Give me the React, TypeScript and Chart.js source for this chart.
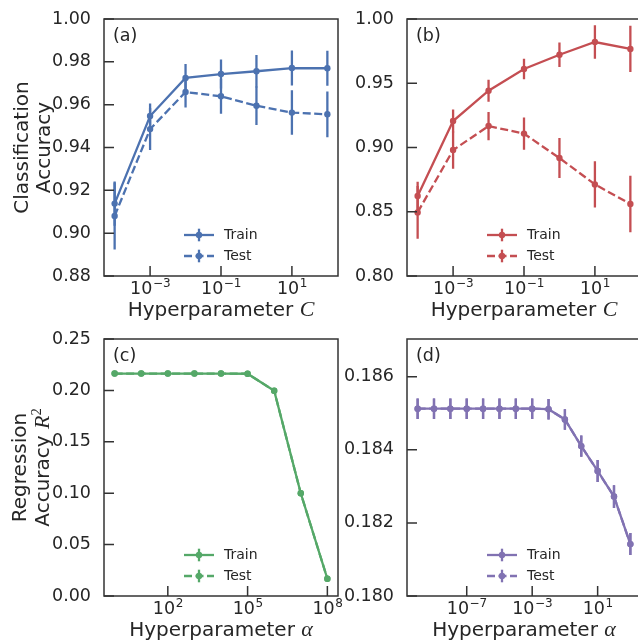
import React, { useEffect, useRef } from 'react';
import { Chart, registerables } from 'chart.js';
Chart.register(...registerables);

// ---------- data ----------
const C_VALUES = [1e-4, 1e-3, 1e-2, 1e-1, 1, 10, 100];
const A_TRAIN = [0.9138, 0.9547, 0.9725, 0.9743, 0.9756, 0.9771, 0.977];
const A_TRAIN_ERR = [0.0103, 0.0058, 0.0065, 0.0068, 0.0076, 0.0082, 0.0082];
const A_TEST = [0.908, 0.9486, 0.9659, 0.9639, 0.9595, 0.9563, 0.9555];
const A_TEST_ERR = [0.0156, 0.0098, 0.0072, 0.0081, 0.009, 0.0104, 0.0107];

const B_TRAIN = [0.8623, 0.9206, 0.9442, 0.9611, 0.9722, 0.9821, 0.9767];
const B_TRAIN_ERR = [0.011, 0.009, 0.0085, 0.008, 0.0095, 0.013, 0.018];
const B_TEST = [0.8495, 0.898, 0.9167, 0.9108, 0.8918, 0.8713, 0.856];
const B_TEST_ERR = [0.0205, 0.0145, 0.011, 0.0125, 0.0155, 0.018, 0.022];

const ALPHA_C = [1, 1e1, 1e2, 1e3, 1e4, 1e5, 1e6, 1e7, 1e8];
const C_TRAIN = [0.2164, 0.2164, 0.2164, 0.2164, 0.2164, 0.2162, 0.1997, 0.0999, 0.0168];
const C_TRAIN_ERR = [0.0005, 0.0005, 0.0005, 0.0005, 0.0005, 0.0005, 0.0006, 0.0006, 0.0006];
const C_TEST = [0.2164, 0.2164, 0.2164, 0.2164, 0.2164, 0.2162, 0.1997, 0.0999, 0.0168];
const C_TEST_ERR = [0.0005, 0.0005, 0.0005, 0.0005, 0.0005, 0.0005, 0.0006, 0.0006, 0.0006];

const ALPHA_D = [1e-10, 1e-9, 1e-8, 1e-7, 1e-6, 1e-5, 1e-4, 1e-3, 1e-2, 1e-1, 1, 1e1, 1e2, 1e3];
const D_TRAIN = [0.185125, 0.185125, 0.185125, 0.185125, 0.185125, 0.185125, 0.185125, 0.185125, 0.18511, 0.18483, 0.1841, 0.18342, 0.18272, 0.18142];
const D_TRAIN_ERR = [0.00028, 0.00028, 0.00028, 0.00028, 0.00028, 0.00028, 0.00028, 0.00028, 0.00028, 0.00028, 0.00029, 0.0003, 0.00031, 0.0003];
const D_TEST = [0.185125, 0.185125, 0.185125, 0.185125, 0.185125, 0.185125, 0.185125, 0.185125, 0.18511, 0.18483, 0.1841, 0.18342, 0.18272, 0.18142];
const D_TEST_ERR = [0.00028, 0.00028, 0.00028, 0.00028, 0.00028, 0.00028, 0.00028, 0.00028, 0.00028, 0.00028, 0.00029, 0.0003, 0.00031, 0.0003];

const X_TICKS_AB = [1e-3, 1e-1, 1e1];
const X_TICKS_C = [1e2, 1e5, 1e8];
const X_TICKS_D = [1e-7, 1e-3, 1e1];
const Y_TICKS_A = [0.88, 0.9, 0.92, 0.94, 0.96, 0.98, 1.0];
const Y_TICKS_B = [0.8, 0.85, 0.9, 0.95, 1.0];
const Y_TICKS_C = [0, 0.05, 0.1, 0.15, 0.2, 0.25];
const Y_TICKS_D = [0.18, 0.182, 0.184, 0.186];

const LEGEND_LABELS = ['Train', 'Test'];

// ---------- style ----------
const FONT = '"DejaVu Sans"';
const MATH_FONT = '"Liberation Serif"';
const TEXT = '#262626';
const SPINE = '#333333';
const LW = 2.3;
const EB_LW = 2.3;
const DASH = [8, 3.5];
const MARKER_R = 3.2;

type Seg = { t: string; k?: 'i' | 'sup' };
type Series = { label: string; xs: number[]; ys: number[]; errs: number[]; dashed: boolean };
type PanelCfg = {
  left: number; top: number; width: number; height: number;
  plotLeft: number; plotTop: number; plotRight: number; plotBottom: number;
  color: string; series: Series[];
  xMin: number; xMax: number; xTicks: number[];
  yMin: number; yMax: number; yTicks: number[]; yDecimals: number;
  tag: string; xTitle: string; xMath: string;
  yTitle?: Seg[][]; yTitleX?: number[];
};

function mk(labelIdx: number, xs: number[], ys: number[], errs: number[]): Series {
  return { label: LEGEND_LABELS[labelIdx], xs, ys, errs, dashed: labelIdx === 1 };
}

const PANELS: PanelCfg[] = [
  {
    left: 0, top: 0, width: 360, height: 322,
    plotLeft: 104, plotTop: 19, plotRight: 338, plotBottom: 276,
    color: '#4C72B0',
    series: [mk(0, C_VALUES, A_TRAIN, A_TRAIN_ERR), mk(1, C_VALUES, A_TEST, A_TEST_ERR)],
    xMin: Math.pow(10, -4.3), xMax: Math.pow(10, 2.3), xTicks: X_TICKS_AB,
    yMin: 0.88, yMax: 1.0, yTicks: Y_TICKS_A, yDecimals: 2,
    tag: '(a)', xTitle: 'Hyperparameter ', xMath: 'C',
    yTitle: [[{ t: 'Classification' }], [{ t: 'Accuracy' }]], yTitleX: [27.5, 49.5],
  },
  {
    left: 320, top: 0, width: 340, height: 322,
    plotLeft: 407, plotTop: 19, plotRight: 641, plotBottom: 276,
    color: '#C44E52',
    series: [mk(0, C_VALUES, B_TRAIN, B_TRAIN_ERR), mk(1, C_VALUES, B_TEST, B_TEST_ERR)],
    xMin: Math.pow(10, -4.3), xMax: Math.pow(10, 2.3), xTicks: X_TICKS_AB,
    yMin: 0.8, yMax: 1.0, yTicks: Y_TICKS_B, yDecimals: 2,
    tag: '(b)', xTitle: 'Hyperparameter ', xMath: 'C',
  },
  {
    left: 0, top: 320, width: 360, height: 322,
    plotLeft: 104, plotTop: 339, plotRight: 338, plotBottom: 596,
    color: '#55A868',
    series: [mk(0, ALPHA_C, C_TRAIN, C_TRAIN_ERR), mk(1, ALPHA_C, C_TEST, C_TEST_ERR)],
    xMin: Math.pow(10, -0.4), xMax: Math.pow(10, 8.4), xTicks: X_TICKS_C,
    yMin: 0, yMax: 0.25, yTicks: Y_TICKS_C, yDecimals: 2,
    tag: '(c)', xTitle: 'Hyperparameter ', xMath: 'α',
    yTitle: [[{ t: 'Regression' }], [{ t: 'Accuracy ' }, { t: 'R', k: 'i' }, { t: '2', k: 'sup' }]], yTitleX: [25.5, 49],
  },
  {
    left: 320, top: 320, width: 340, height: 322,
    plotLeft: 407, plotTop: 339, plotRight: 641, plotBottom: 596,
    color: '#8172B2',
    series: [mk(0, ALPHA_D, D_TRAIN, D_TRAIN_ERR), mk(1, ALPHA_D, D_TEST, D_TEST_ERR)],
    xMin: Math.pow(10, -10.65), xMax: Math.pow(10, 3.65), xTicks: X_TICKS_D,
    yMin: 0.18, yMax: 0.18703, yTicks: Y_TICKS_D, yDecimals: 3,
    tag: '(d)', xTitle: 'Hyperparameter ', xMath: 'α',
  },
];

function segFont(k?: string) {
  if (k === 'i') return `italic 22px ${MATH_FONT}`;
  if (k === 'sup') return `14.5px ${MATH_FONT}`;
  return `20px ${FONT}`;
}

function Panel({ cfg }: { cfg: PanelCfg }) {
  const ref = useRef<HTMLCanvasElement>(null);
  useEffect(() => {
    const canvas = ref.current!;
    const plotL = cfg.plotLeft - cfg.left;
    const plotT = cfg.plotTop - cfg.top;
    const plotR = cfg.plotRight - cfg.left;
    const plotB = cfg.plotBottom - cfg.top;
    const xAxisH = cfg.height - plotB;
    const padR = cfg.width - plotR;

    const datasets = cfg.series.map((s) => ({
      label: s.label,
      data: s.xs.map((x, i) => ({ x, y: s.ys[i] })),
      borderColor: cfg.color,
      backgroundColor: cfg.color,
      borderWidth: LW,
      borderDash: s.dashed ? DASH : [],
      pointRadius: MARKER_R,
      pointHoverRadius: MARKER_R,
      pointBorderWidth: 0,
      pointBackgroundColor: cfg.color,
      showLine: true,
      tension: 0,
      fill: false,
    }));

    const plugin = {
      id: 'decor',
      beforeDatasetDraw(chart: any, args: any) {
        const s = cfg.series[args.index];
        const xs = chart.scales.x;
        const ys = chart.scales.y;
        const ctx = chart.ctx;
        const a = chart.chartArea;
        ctx.save();
        ctx.beginPath();
        ctx.rect(a.left, a.top, a.right - a.left, a.bottom - a.top);
        ctx.clip();
        ctx.strokeStyle = cfg.color;
        ctx.lineWidth = EB_LW;
        ctx.setLineDash([]);
        ctx.beginPath();
        s.xs.forEach((x, i) => {
          const px = xs.getPixelForValue(x);
          ctx.moveTo(px, ys.getPixelForValue(s.ys[i] - s.errs[i]));
          ctx.lineTo(px, ys.getPixelForValue(s.ys[i] + s.errs[i]));
        });
        ctx.stroke();
        ctx.restore();
      },
      afterDraw(chart: any) {
        const ctx = chart.ctx as CanvasRenderingContext2D;
        const a = chart.chartArea;
        const xs = chart.scales.x;
        const ys = chart.scales.y;
        ctx.save();
        // frame
        ctx.strokeStyle = SPINE;
        ctx.lineWidth = 1.5;
        ctx.setLineDash([]);
        ctx.strokeRect(a.left, a.top, a.right - a.left, a.bottom - a.top);
        // inward ticks
        ctx.beginPath();
        cfg.xTicks.forEach((v) => {
          const px = xs.getPixelForValue(v);
          ctx.moveTo(px, a.bottom);
          ctx.lineTo(px, a.bottom - 10);
        });
        cfg.yTicks.forEach((v) => {
          const py = ys.getPixelForValue(v);
          ctx.moveTo(a.left, py);
          ctx.lineTo(a.left + 10, py);
        });
        ctx.stroke();
        // x tick labels 10^n
        ctx.fillStyle = TEXT;
        ctx.textBaseline = 'alphabetic';
        ctx.textAlign = 'left';
        cfg.xTicks.forEach((v) => {
          const px = xs.getPixelForValue(v);
          const e = Math.round(Math.log10(v));
          const expStr = (e < 0 ? '\u2212' : '') + String(Math.abs(e));
          ctx.font = `17.5px ${FONT}`;
          const wb = ctx.measureText('10').width;
          ctx.font = `12px ${FONT}`;
          const we = ctx.measureText(expStr).width;
          const x0 = px - (wb + we) / 2;
          const by = a.bottom + 18;
          ctx.font = `17.5px ${FONT}`;
          ctx.fillText('10', x0, by);
          ctx.font = `12px ${FONT}`;
          ctx.fillText(expStr, x0 + wb + 0.5, by - 7.5);
        });
        // panel tag
        ctx.font = `17.5px ${FONT}`;
        ctx.fillText(cfg.tag, a.left + 9, a.top + 22);
        // x title
        ctx.font = segFont();
        const w1 = ctx.measureText(cfg.xTitle).width;
        ctx.font = segFont('i');
        const w2 = ctx.measureText(cfg.xMath).width;
        const cx = (a.left + a.right) / 2;
        const tx = cx - (w1 + w2) / 2;
        const ty = a.bottom + 40;
        ctx.font = segFont();
        ctx.fillText(cfg.xTitle, tx, ty);
        ctx.font = segFont('i');
        ctx.fillText(cfg.xMath, tx + w1, ty);
        // y title
        if (cfg.yTitle && cfg.yTitleX) {
          const cy = (a.top + a.bottom) / 2;
          cfg.yTitle.forEach((line, li) => {
            let total = 0;
            const widths = line.map((sg) => {
              ctx.font = segFont(sg.k);
              const w = ctx.measureText(sg.t).width;
              total += w;
              return w;
            });
            ctx.save();
            ctx.translate(cfg.yTitleX![li] - cfg.left, cy);
            ctx.rotate(-Math.PI / 2);
            let u = -total / 2;
            line.forEach((sg, si) => {
              ctx.font = segFont(sg.k);
              ctx.fillText(sg.t, u, sg.k === 'sup' ? -8 : 0);
              u += widths[si];
            });
            ctx.restore();
          });
        }
        // legend
        const hx0 = cx - 37;
        const hlen = 30;
        cfg.series.forEach((s, i) => {
          const y = a.bottom - 41 + i * 21;
          ctx.strokeStyle = cfg.color;
          ctx.lineWidth = LW;
          ctx.setLineDash(s.dashed ? DASH : []);
          ctx.beginPath();
          ctx.moveTo(hx0, y);
          ctx.lineTo(hx0 + hlen, y);
          ctx.stroke();
          ctx.setLineDash([]);
          ctx.lineWidth = EB_LW;
          ctx.beginPath();
          ctx.moveTo(hx0 + hlen / 2, y - 6.3);
          ctx.lineTo(hx0 + hlen / 2, y + 6.3);
          ctx.stroke();
          ctx.fillStyle = cfg.color;
          ctx.beginPath();
          ctx.arc(hx0 + hlen / 2, y, MARKER_R, 0, Math.PI * 2);
          ctx.fill();
          ctx.fillStyle = TEXT;
          ctx.font = `14px ${FONT}`;
          ctx.textBaseline = 'middle';
          ctx.fillText(s.label, hx0 + 40, y);
          ctx.textBaseline = 'alphabetic';
        });
        ctx.restore();
      },
    };

    const chart = new Chart(canvas, {
      type: 'scatter',
      data: { datasets } as any,
      options: {
        animation: false,
        responsive: false,
        maintainAspectRatio: false,
        devicePixelRatio: 1,
        events: [],
        layout: { padding: { top: plotT, right: padR, left: 0, bottom: 0 } },
        plugins: { legend: { display: false }, tooltip: { enabled: false } },
        scales: {
          x: {
            type: 'logarithmic',
            position: 'bottom',
            bounds: 'data',
            min: cfg.xMin,
            max: cfg.xMax,
            afterBuildTicks: (sc: any) => { sc.ticks = cfg.xTicks.map((v) => ({ value: v })); },
            afterFit: (sc: any) => { sc.height = xAxisH; sc.paddingLeft = 0; sc.paddingRight = 0; },
            ticks: { display: false },
            grid: { display: false },
            border: { display: false },
          },
          y: {
            type: 'linear',
            position: 'left',
            bounds: 'data',
            min: cfg.yMin,
            max: cfg.yMax,
            afterBuildTicks: (sc: any) => { sc.ticks = cfg.yTicks.map((v) => ({ value: v })); },
            afterFit: (sc: any) => { sc.width = plotL; sc.paddingTop = 0; sc.paddingBottom = 0; },
            ticks: {
              font: { family: 'DejaVu Sans', size: 17.5 },
              color: TEXT,
              padding: 5,
              callback: (v: any) => Number(v).toFixed(cfg.yDecimals),
            },
            grid: { display: false },
            border: { display: false },
          },
        },
      } as any,
      plugins: [plugin as any],
    });
    return () => chart.destroy();
  }, [cfg]);

  return (
    <canvas
      ref={ref}
      width={cfg.width}
      height={cfg.height}
      style={{ position: 'absolute', left: cfg.left, top: cfg.top, width: cfg.width, height: cfg.height }}
    />
  );
}

export default function App() {
  return (
    <div style={{ position: 'fixed', left: 0, top: 0, width: 638, height: 642, overflow: 'hidden', background: '#ffffff' }}>
      {PANELS.map((p) => (
        <Panel key={p.tag} cfg={p} />
      ))}
    </div>
  );
}
